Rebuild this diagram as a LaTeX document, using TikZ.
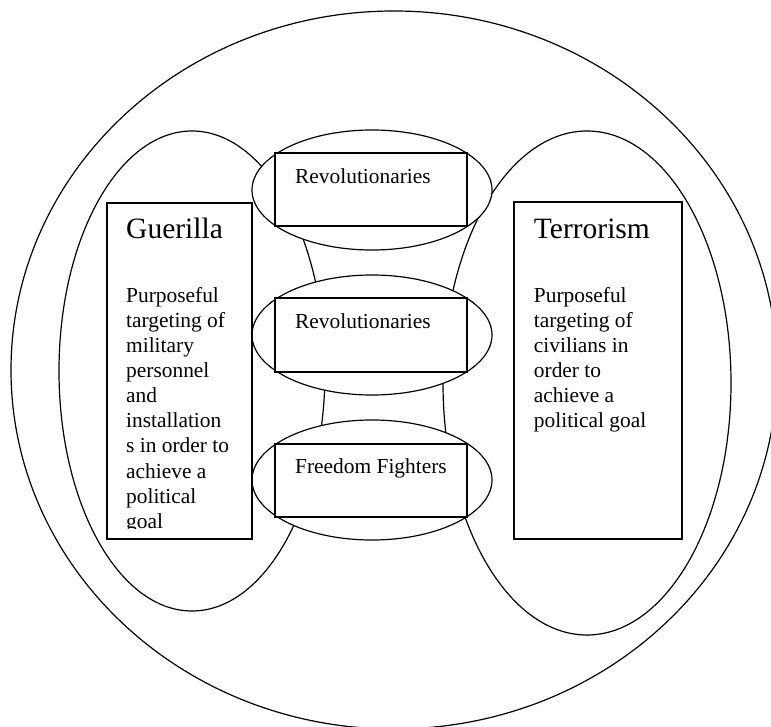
\documentclass[tikz,border=0pt]{standalone}
\usepackage{fontspec}
\setmainfont{Liberation Serif}
\usetikzlibrary{calc,shapes.geometric}

\begin{document}
\begin{tikzpicture}[x=1pt, y=-1pt,
		oval/.style={draw, ellipse, line width=1.2pt, inner sep=0pt},
		tbox/.style={draw, rectangle, line width=2pt, fill=white, inner sep=0pt},
		head/.style={anchor=base west, inner sep=0pt, font=\fontsize{29.5}{34}\selectfont},
		body/.style={anchor=base west, inner sep=0pt, font=\fontsize{21.4}{25}\selectfont}]
			%%%%% START %%%%%
			\useasboundingbox (0, 0) rectangle (771, 727);
			
			\node[oval, minimum width=766pt, minimum height=718pt] (world) at (394, 370) {};
			\node[oval, minimum width=266pt, minimum height=480pt] (guerillaset) at (192, 371) {};
			\node[oval, minimum width=288pt, minimum height=504pt] (terrorset) at (587, 383) {};
			
			\foreach \name/\y/\txt in {a/190/Revolutionaries, b/335/Revolutionaries, c/480/Freedom Fighters} {
				\node[oval, fill=white, minimum width=240pt, minimum height=120pt] (oval\name) at (372, \y) {};
				\node[tbox, minimum width=192pt, minimum height=73pt] (box\name) at (371, \y) {};
				\node[body] (lbl\name) at ($(box\name.north west)+(21, 31)$) {\txt};
			}
			
			\node[tbox, minimum width=145pt, minimum height=336pt] (guerilla) at (179.5, 371) {};
			\node[head] (guerillahead) at ($(guerilla.north west)+(20, 37)$) {Guerilla};
			\begin{scope}
				\clip (guerilla.north west) rectangle ($(guerilla.south east)+(0, -12)$);
				\foreach \words [count=\i from 0] in {Purposeful, targeting of, military, personnel, and, installation, s in order to, achieve a, political, goal}
					\node[body] (gline\i) at ($(guerilla.north west)+(20, 100+25.15*\i)$) {\words};
			\end{scope}
			
			\node[tbox, minimum width=167.5pt, minimum height=337pt] (terror) at (598, 370.5) {};
			\node[head] (terrorhead) at ($(terror.north west)+(20.5, 38)$) {Terrorism};
			\foreach \words [count=\i from 0] in {Purposeful, targeting of, civilians in, order to, achieve a, political goal}
				\node[body] (tline\i) at ($(terror.north west)+(20.5, 101+25.15*\i)$) {\words};
			
			%%%%% END %%%%%
\end{tikzpicture}
\end{document}
